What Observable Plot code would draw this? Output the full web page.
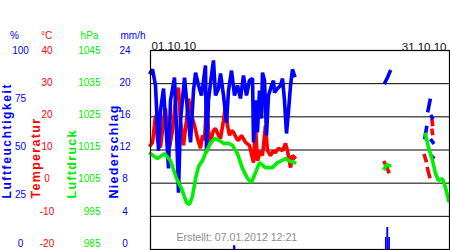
<!DOCTYPE html>
<html><head><meta charset="utf-8">
<script src="https://cdn.jsdelivr.net/npm/d3@7"></script>
<script src="https://cdn.jsdelivr.net/npm/@observablehq/plot@0.6"></script>
<style>body{margin:0;background:#fff}svg{display:block}</style>
</head><body><div id="chart"></div>
<script>
// time in days since 01.10.10 00:00
const humDay = [0.00,0.21,0.52,0.83,1.04,1.35,1.56,1.87,2.07,2.49,2.70,2.90,3.11,3.53,3.84,4.15,4.46,4.67,4.98,5.29,5.50,5.70,5.81,6.01,6.32,6.53,6.74,7.05,7.26,7.57,7.88,8.09,8.40,8.71,9.02,9.33,9.64,9.95,10.26,10.58,10.68,10.89,11.09,11.30,11.51,11.61,11.82,12.03,12.23,12.55,12.75,12.86,13.17,13.48,13.69,13.89,14.10,14.31,14.52,14.72,14.93,
  20,24.31,24.57,24.83,26,28.46,28.62,28.7,28.77,28.98,29.05,29.14,29.2,29.22,29.14,29.29,29.3,29.19,29.29];
const humVal = [88.9,90.5,82.4,49.7,69.8,80.9,64.8,40.7,74.9,86.4,59.8,28.6,64.8,86.4,69.8,53.8,79.9,88.9,82.4,77.4,84.9,92.5,48.7,74.9,87.4,95.0,77.4,80.9,88.4,77.4,63.8,79.9,89.9,77.4,82.4,75.9,87.4,77.4,84.9,85.9,53.8,74.9,58.8,79.9,65.8,88.9,84.9,57.3,77.4,82.4,84.9,78.9,80.9,82.4,85.9,74.9,58.3,69.8,82.4,90.5,87.4,
  null,83.9,86.4,89.4,null,56.3,61.3,null,69.8,74.9,null,66.8,66.3,null,54.8,53.8,null,46.7,46.2];

const tempDay = [0,0.21,0.52,0.73,1.04,1.35,1.56,1.76,1.97,2.28,2.59,2.90,3.11,3.42,3.73,3.94,4.25,4.56,4.87,5.18,5.39,5.60,5.81,6.01,6.22,6.53,6.74,7.05,7.26,7.57,7.78,7.98,8.19,8.40,8.61,8.92,9.12,9.43,9.85,10.26,10.68,10.89,11.09,11.40,11.61,11.92,12.13,12.44,12.75,12.96,13.27,13.69,14.00,14.20,14.52,14.72,14.93,
  20,24.26,24.47,24.68,26,28.41,28.56,28.6,28.72,28.93,29.0,29.19,29.24,29.25,29.19,29.24];
const tempVal = [11.4,12.3,20.4,12.9,10.8,18.9,22.5,14.4,10.8,15.9,24.9,28.8,18.9,11.4,18.9,25.5,20.4,17.4,13.5,10.5,14.4,12.9,24.0,15.9,12.3,15.9,16.5,14.4,13.5,18.9,23.4,17.4,14.4,15.9,15.3,13.5,12.9,14.4,12.3,11.4,6.2,17.4,6.8,9.8,8.3,17.4,9.8,8.3,9.8,9.2,10.5,9.8,12.0,9.8,4.7,8.3,7.7,
  null,6.2,5.0,3.5,null,8.3,6.8,null,4.4,2.0,null,18.9,17.7,null,15.9,15.0];

const presDay = [0,0.73,1.45,2.07,2.70,3.21,3.73,4.04,4.35,4.67,4.98,5.39,5.81,6.22,6.64,7.15,7.57,8.09,8.50,9.02,9.54,10.06,10.47,10.89,11.30,11.92,12.65,13.17,14.00,14.52,14.93,
  20,24.26,24.47,24.78,26,28.51,28.82,29.24,29.55,29.86,30.27,30.58,30.90];
const presVal = [1013.9,1012.4,1013.9,1011.8,1006.4,1003.4,999.2,998.6,1001.0,1006.4,1010.0,1011.8,1014.8,1017.0,1018.5,1017.9,1017.0,1017.0,1016.4,1013.9,1009.4,1006.4,1005.2,1008.2,1011.2,1009.7,1009.7,1011.2,1012.4,1011.5,1011.2,
  null,1009.4,1010.6,1010.3,null,1019.7,1015.8,1011.8,1007.9,1005.8,1006.4,1003.7,999.8];

const rainStart = [8.60,24.36,24.50,24.70];
const rainEnd   = [8.85,24.50,24.70,24.88];
const rainVal   = [0.45,1.45,2.65,1.45];

const humTicks  = [100,75,50,25,0];
const tempTicks = [40,30,20,10,0,-10,-20];
const presTicks = [1045,1035,1025,1015,1005,995,985];
const rainTicks = [24,20,16,12,8,4,0];
const gridTemps = [30,20,10,0,-10];

const unitLabels = ["%","°C","hPa","mm/h"];
const axisNames = ["Luftfeuchtigkeit","Temperatur","Luftdruck","Niederschlag"];
const dateStart = "01.10.10", dateEnd = "31.10.10";
const created = "Erstellt: 07.01.2012 12:21";

// all series share the temperature scale (-20..40)
const fromHum = h => h == null ? NaN : h * 0.6 - 20;
const fromPres = p => p == null ? NaN : p - 1005;
const fromRain = r => r * 2.5 - 20;
const fromTemp = t => t == null ? NaN : t;
// tick labels sit on a slightly compressed ladder (as in the original)
const lab = v => 40 - (40 - v) * 0.97;

const hum = humDay.map((d,i)=>({d, v: fromHum(humVal[i])}));
const temp = tempDay.map((d,i)=>({d, v: fromTemp(tempVal[i])}));
const pres = presDay.map((d,i)=>({d, v: fromPres(presVal[i])}));
const rain = rainVal.map((r,i)=>({a: rainStart[i], b: rainEnd[i], v: fromRain(r)}));

const BLUE="#0000ff", RED="#ff0000", GREEN="#00ee00";
const font = "Liberation Sans, Arial, sans-serif";
const lineOpts = {strokeWidth: 3.6, strokeLinejoin: "bevel", strokeLinecap: "square"};

const chart = Plot.plot({
  width: 450, height: 250,
  marginLeft: 150, marginRight: 1, marginTop: 50, marginBottom: 1,
  style: {fontFamily: font, background: "#fff", overflow: "visible"},
  x: {domain: [0, 31], axis: null},
  y: {domain: [-20, 40], axis: null},
  marks: [
    Plot.ruleY(gridTemps, {stroke: "#000", strokeWidth: 1}),
    Plot.rect(rain, {x1: "a", x2: "b", y1: -20, y2: "v", fill: BLUE}),
    Plot.line(temp, {x: "d", y: "v", stroke: RED, ...lineOpts}),
    Plot.line(hum, {x: "d", y: "v", stroke: BLUE, ...lineOpts}),
    Plot.line(pres, {x: "d", y: "v", stroke: GREEN, ...lineOpts}),
    Plot.frame({stroke: "#000", strokeWidth: 1.2}),
    // tick labels
    Plot.text(humTicks, {y: d => lab(fromHum(d)), text: d => String(d), frameAnchor: "left", dx: -130, textAnchor: "middle", fill: BLUE, fontSize: 10}),
    Plot.text(tempTicks, {y: d => lab(fromTemp(d)), text: d => String(d), frameAnchor: "left", dx: -103.5, textAnchor: "middle", fill: RED, fontSize: 10}),
    Plot.text(presTicks, {y: d => lab(fromPres(d)), text: d => String(d), frameAnchor: "left", dx: -50, textAnchor: "end", fill: GREEN, fontSize: 10}),
    Plot.text(rainTicks, {y: d => lab(fromRain(d)), text: d => String(d), frameAnchor: "left", dx: -25.5, textAnchor: "middle", fill: BLUE, fontSize: 10}),
    // unit headers
    Plot.text([unitLabels[0]], {text: d => d, frameAnchor: "top-left", dx: -136, dy: -19, textAnchor: "middle", fill: BLUE, fontSize: 10}),
    Plot.text([unitLabels[1]], {text: d => d, frameAnchor: "top-left", dx: -104, dy: -19, textAnchor: "middle", fill: RED, fontSize: 10}),
    Plot.text([unitLabels[2]], {text: d => d, frameAnchor: "top-left", dx: -61, dy: -19, textAnchor: "middle", fill: GREEN, fontSize: 10}),
    Plot.text([unitLabels[3]], {text: d => d, frameAnchor: "top-left", dx: -17.5, dy: -19, textAnchor: "middle", fill: BLUE, fontSize: 10}),
    // rotated axis names
    Plot.text([axisNames[0]], {text: d => d, frameAnchor: "top-left", dx: -143.5, dy: 148, rotate: -90, textAnchor: "start", lineAnchor: "middle", fill: BLUE, fontSize: 12, fontWeight: "bold"}),
    Plot.text([axisNames[1]], {text: d => d, frameAnchor: "top-left", dx: -114.5, dy: 148, rotate: -90, textAnchor: "start", lineAnchor: "middle", fill: RED, fontSize: 12.5, fontWeight: "bold"}),
    Plot.text([axisNames[2]], {text: d => d, frameAnchor: "top-left", dx: -78.5, dy: 148, rotate: -90, textAnchor: "start", lineAnchor: "middle", fill: GREEN, fontSize: 12.5, fontWeight: "bold"}),
    Plot.text([axisNames[3]], {text: d => d, frameAnchor: "top-left", dx: -36.5, dy: 148, rotate: -90, textAnchor: "start", lineAnchor: "middle", fill: BLUE, fontSize: 12.5, fontWeight: "bold"}),
    // dates
    Plot.text([dateStart], {text: d => d, frameAnchor: "top-left", dx: 1, dy: -9, textAnchor: "start", fill: "#111", fontSize: 11.5}),
    Plot.text([dateEnd], {text: d => d, frameAnchor: "top-right", dx: -3, dy: -8, textAnchor: "end", fill: "#111", fontSize: 11.5}),
    Plot.text([created], {text: d => d, frameAnchor: "bottom-left", dx: 26, dy: -9, textAnchor: "start", fill: "#8c8c8c", fontSize: 10.6})
  ]
});
// letter spacing on rotated names
chart.querySelectorAll("text").forEach(t => {
  if (t.textContent === axisNames[0]) t.setAttribute("letter-spacing", "1.6");
  else if (axisNames.includes(t.textContent)) t.setAttribute("letter-spacing", "1.3");
});
document.getElementById("chart").appendChild(chart);
</script>
</body></html>
